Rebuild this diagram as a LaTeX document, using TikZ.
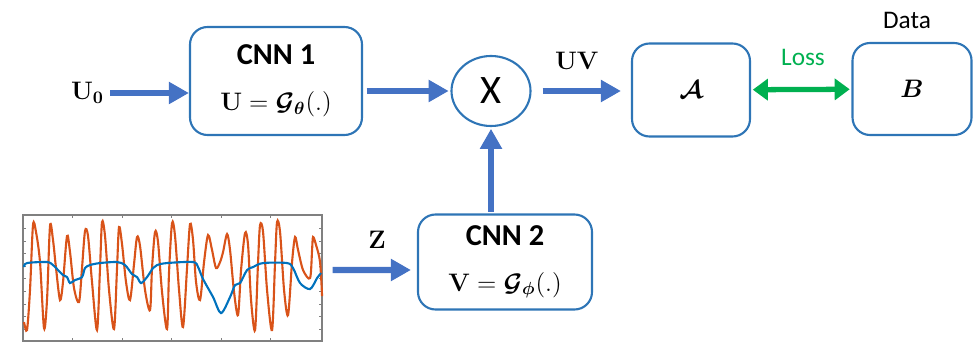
\documentclass[tikz,border=0pt]{standalone}
\usepackage{amsmath}
\usepackage{bm}
\usepackage[no-math]{fontspec}
\setmainfont{Carlito}
\usetikzlibrary{shapes}
\usetikzlibrary{positioning}
\usetikzlibrary{arrows.meta}
\definecolor{boxblue}{HTML}{2E75B6}
\definecolor{arrblue}{HTML}{4472C4}
\definecolor{lossgreen}{HTML}{00B050}
\definecolor{sigblue}{HTML}{0072BD}
\definecolor{sigorange}{HTML}{D95319}
\tikzset{
    netbox/.style = {rectangle, rounded corners=0.35cm, line width=1.2pt, draw=boxblue, align=center, text=black},
    opnode/.style = {ellipse, line width=1.2pt, draw=boxblue, minimum width=1.58cm, minimum height=1.4cm, font=\fontsize{23}{27}\selectfont, text=black},
    framenode/.style = {rectangle, draw=gray, line width=0.6pt, minimum width=5.98cm, minimum height=2.52cm},
    lbl/.style = {text=black, font=\Large},
    flow/.style = {-{Triangle[length=0.4cm,width=0.42cm]}, line width=3.6pt, arrblue},
    lossflow/.style = {{Triangle[length=0.3cm,width=0.42cm]}-{Triangle[length=0.3cm,width=0.42cm]}, line width=3pt, lossgreen},
    sigline/.style = {line width=1.2pt, smooth, tension=0.5}
}

\begin{document}
\begin{tikzpicture}
\path[use as bounding box] (0,0) rectangle (19.58,6.84);

% boxes
\node[netbox, font=\LARGE, minimum width=3.44cm, minimum height=2.16cm] at (5.52,5.22) (cnn1) {\textbf{CNN 1}\\[4pt]{\Large$\mathbf{U}=\bm{\mathcal{G}}_{\bm{\theta}}(.)$}};
\node[netbox, font=\LARGE, minimum width=3.48cm, minimum height=1.90cm] at (10.10,1.60) (cnn2) {\textbf{CNN 2}\\[4pt]{\Large$\mathbf{V}=\bm{\mathcal{G}}_{\bm{\phi}}(.)$}};
\node[opnode] at (9.82,5.02) (xop) {X};
\node[netbox, minimum width=2.36cm, minimum height=1.86cm] at (13.82,5.04) (ares) {\Large$\bm{\mathcal{A}}$};
\node[netbox, minimum width=2.38cm, minimum height=1.84cm] at (18.24,5.06) (bres) {\Large$\bm{B}$};
\node[framenode] at (3.45,1.28) (sig) {};

% labels
\node[lbl] at (1.75,4.98) (u0) {$\mathbf{U_0}$};
\node[lbl] at (11.54,5.62) (uv) {$\mathbf{UV}$};
\node[lbl] at (7.54,2.04) (zin) {$\mathbf{Z}$};
\node[lbl, text=lossgreen] at (16.06,5.70) (loss) {Loss};
\node[lbl] at (18.14,6.44) (data) {Data};

% arrows
\draw[flow] (u0) -- (u0 -| cnn1.west);
\draw[flow, shorten <=2pt, shorten >=1pt] (cnn1.east |- xop) -- (xop);
\draw[flow, shorten <=0.22cm, shorten >=0.2cm] (xop) -- (xop -| ares.west);
\draw[flow, shorten <=1pt, shorten >=1pt] (cnn2.north -| xop) -- (xop);
\draw[flow, shorten <=0.2cm, shorten >=0.12cm] ([yshift=0.16cm]sig.east) -- ([yshift=-0.16cm]cnn2.west);
\draw[lossflow, shorten <=1pt, shorten >=1pt] (ares) -- (bres);

% signal plot
\begin{scope}[shift={(0,6.84)}, x=0.02cm, y=-0.02cm]
\foreach \ty in {228.3,240.9,253.5,266.1,278.7,291.3,303.9,316.5,329.1} {
    \draw[gray, line width=0.5pt] (23,\ty) -- (26,\ty);
    \draw[gray, line width=0.5pt] (322,\ty) -- (319,\ty);
}
\foreach \tx in {72.7,122.2,171.7,221.2,270.7} {
    \draw[gray, line width=0.5pt] (\tx,341) -- (\tx,338);
    \draw[gray, line width=0.5pt] (\tx,215) -- (\tx,218);
}
\draw[sigline, sigorange] plot coordinates {
    (24,322) (27,330) (30,290) (33,225) (36,232) (40,262) (44,328) (47,300)
    (50,226) (53,240) (56,268) (60,300) (63,282) (67,236) (70,252) (74,288)
    (79,302) (82,268) (85,231) (88,236) (92,282) (97,330) (100,268) (102,222)
    (105,236) (109,290) (114,329) (117,268) (119,227) (122,244) (126,282) (130,300)
    (134,264) (137,237) (140,246) (145,290) (150,310) (152,268) (155,232) (158,242)
    (162,292) (167,329) (169,272) (172,223) (175,236) (179,290) (183,327) (187,268)
    (190,224) (193,240) (196,282) (200,300) (204,262) (208,235) (212,250) (216,268)
    (220,262) (223,252) (227,234) (230,250) (234,292) (238,315) (241,270) (245,233)
    (248,245) (251,300) (255,330) (258,262) (260,225) (263,232) (267,290) (272,330)
    (275,262) (277,222) (280,232) (284,290) (288,315) (292,262) (295,237) (298,250)
    (303,270) (310,278) (312,250) (313,237) (316,245) (320,262) (322,296)
};
\draw[sigline, sigblue] plot coordinates {
    (24,267) (27,263) (47,262) (53,265) (58,270) (63,275) (67,277) (70,283)
    (75,280) (82,277) (85,268) (90,265) (100,263) (117,262) (125,265) (132,274)
    (137,277) (141,283) (147,277) (153,268) (157,265) (167,263) (193,262) (198,267)
    (203,279) (213,297) (221,313) (230,297) (235,285) (240,283) (247,270) (253,267)
    (263,263) (287,263) (293,268) (300,283) (310,289) (317,278) (321,273)
};
\end{scope}
\end{tikzpicture}
\end{document}
